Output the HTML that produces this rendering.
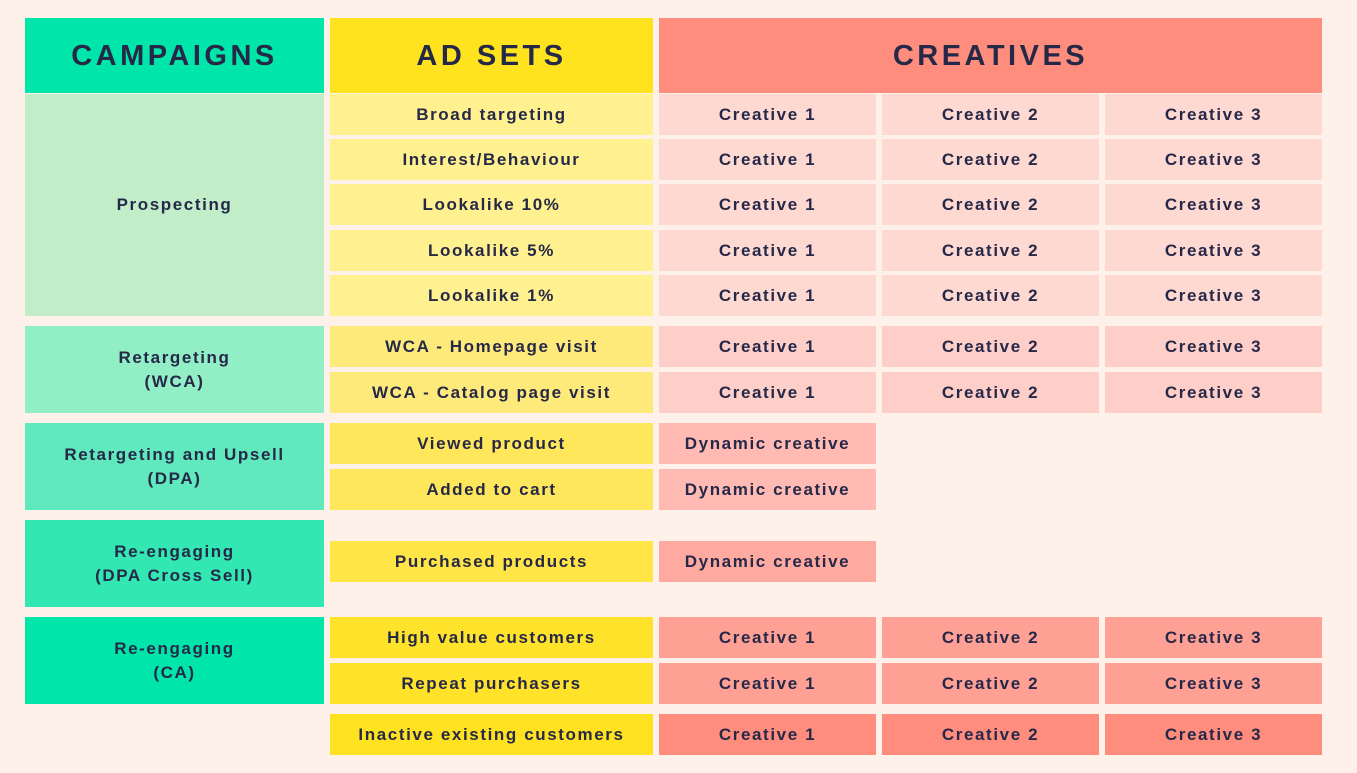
<!DOCTYPE html>
<html><head><meta charset="utf-8"><style>
body{margin:0;width:1357px;height:773px;background:#fef1e9;font-family:"Liberation Sans",sans-serif;position:relative;overflow:hidden}
.c{position:absolute;display:flex;align-items:center;justify-content:center;text-align:center;color:#262848;font-weight:bold;font-size:17px;letter-spacing:1.6px;line-height:24px;box-sizing:border-box}
.h{font-size:29px;letter-spacing:3.5px}
</style></head><body>
<div id="root"></div>
<script>
const root=document.getElementById('root');
function cell(x,y,w,h,bg,txt,cls,name){
  const d=document.createElement('div');
  d.className='c'+(cls?' '+cls:'');
  d.style.cssText=`left:${x}px;top:${y}px;width:${w}px;height:${h}px;background:${bg}`;
  d.innerHTML=txt;
  
  
  root.appendChild(d);
}
cell(25,18,299,75,'#00e5a9','CAMPAIGNS','h','campaigns-header');
cell(330,18,323,75,'#ffe31f','AD SETS','h','ad-sets-header');
cell(659,18,663,75,'#ff8d7d','CREATIVES','h','creatives-header');
const camps=[
 [94,222,'#c1eec9','Prospecting'],
 [326,87,'#92eec5','Retargeting<br>(WCA)'],
 [423,87,'#5fe9bc','Retargeting and Upsell<br>(DPA)'],
 [520,87,'#33e7b2','Re-engaging<br>(DPA Cross Sell)'],
 [617,87,'#00e5a9','Re-engaging<br>(CA)']];
camps.forEach(c=>cell(25,c[0],299,c[1],c[2],c[3],'','campaign-cell'));
const rows=[
 [94,'Broad targeting','#fff18f','#fed9d2',3],
 [139,'Interest/Behaviour','#fff18f','#fed9d2',3],
 [184,'Lookalike 10%','#fff18f','#fed9d2',3],
 [230,'Lookalike 5%','#fff18f','#fed9d2',3],
 [275,'Lookalike 1%','#fff18f','#fed9d2',3],
 [326,'WCA - Homepage visit','#feea7b','#fecec8',3],
 [372,'WCA - Catalog page visit','#feea7b','#fecec8',3],
 [423,'Viewed product','#ffe75b','#ffbbb3',1],
 [469,'Added to cart','#ffe75b','#ffbbb3',1],
 [541,'Purchased products','#ffe546','#ffaaa1',1],
 [617,'High value customers','#ffe22a','#ffa094',3],
 [663,'Repeat purchasers','#ffe22a','#ffa094',3],
 [714,'Inactive existing customers','#ffe21f','#ff8d7d',3]];
const cx=[659,882,1105];
rows.forEach(r=>{
  cell(330,r[0],323,41,r[2],r[1],'','ad-set-cell');
  if(r[4]===1) cell(659,r[0],217,41,r[3],'Dynamic creative','','dynamic-creative-cell');
  else for(let i=0;i<3;i++) cell(cx[i],r[0],217,41,r[3],'Creative '+(i+1),'','creative-cell');
});
</script>
</body></html>
